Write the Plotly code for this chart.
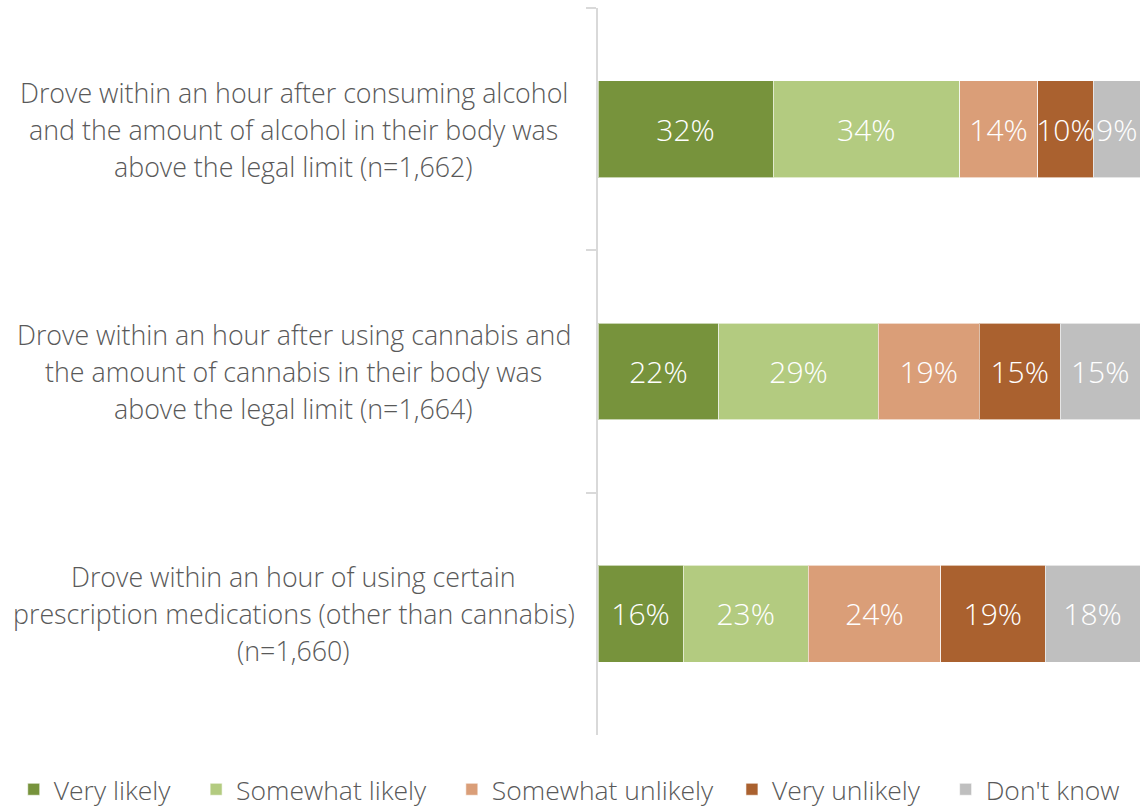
import plotly.graph_objects as go

categories = [
    "Drove within an hour after consuming alcohol<br>and the amount of alcohol in their body was<br>above the legal limit (n=1,662)",
    "Drove within an hour after using cannabis and<br>the amount of cannabis in their body was<br>above the legal limit (n=1,664)",
    "Drove within an hour of using certain<br>prescription medications (other than cannabis)<br>(n=1,660)",
]
series = ["Very likely", "Somewhat likely", "Somewhat unlikely", "Very unlikely", "Don't know"]
very_likely = [32.3, 22.3, 15.7]
somewhat_likely = [34.4, 29.4, 23.1]
somewhat_unlikely = [14.4, 18.6, 24.4]
very_unlikely = [10.3, 15.0, 19.3]
dont_know = [8.6, 14.7, 17.5]
values = [very_likely, somewhat_likely, somewhat_unlikely, very_unlikely, dont_know]
colors = ["#77933C", "#B3CB80", "#DA9E78", "#AA612F", "#BFBFBF"]

FONT = "Open Sans, DejaVu Sans, sans-serif"
GREY = "#595959"
pads = [3, 3, 2, 3, 0]  # non-breaking spaces after each legend entry, to space them out

fig = go.Figure()
for name, vals, col, p in zip(series, values, colors, pads):
    fig.add_trace(go.Bar(
        y=categories,
        x=vals,
        name=name + "\u00a0" * p,
        orientation="h",
        marker=dict(color=col, line=dict(color="rgba(255,255,255,0.6)", width=1)),
        texttemplate="%{x:.0f}%",
        textposition="inside",
        insidetextanchor="middle",
        textangle=0,
        textfont=dict(color="white", size=30, family=FONT, weight=300),
        hoverinfo="skip",
    ))

# category labels, one annotation per line for a looser line spacing
for cat in categories:
    lines = cat.split("<br>")
    mid = (len(lines) - 1) / 2
    for k, line in enumerate(lines):
        fig.add_annotation(
            x=-0.561, xref="paper", xanchor="center",
            y=cat, yref="y", yanchor="middle",
            yshift=(mid - k) * 37,
            text=line, showarrow=False, align="center",
            font=dict(size=26.8, color=GREY, family=FONT, weight=300),
        )

fig.update_layout(
    barmode="stack",
    bargap=0.6,
    width=1140,
    height=808,
    paper_bgcolor="white",
    plot_bgcolor="white",
    margin=dict(l=598, r=0, t=8, b=73, autoexpand=False),
    font=dict(family=FONT, color=GREY, size=26),
    uniformtext=dict(minsize=30, mode="show"),
    legend=dict(
        orientation="h",
        xref="paper",
        x=-1.078, xanchor="left",
        y=-0.075, yanchor="middle",
        font=dict(size=26.5, color=GREY, family=FONT, weight=300),
        traceorder="normal",
        itemclick=False,
    ),
)
fig.update_xaxes(range=[0, 100], visible=False, fixedrange=True)
fig.update_yaxes(
    autorange="reversed",
    showticklabels=False,
    showline=True, linecolor="#D9D9D9", linewidth=2,
    ticks="outside", tickson="boundaries", ticklen=10, tickcolor="#D9D9D9", tickwidth=2,
    showgrid=False,
    fixedrange=True,
)

fig.write_html(
    "out.html",
    config={"displayModeBar": False},
    post_script="document.body.style.margin='0';",
)
